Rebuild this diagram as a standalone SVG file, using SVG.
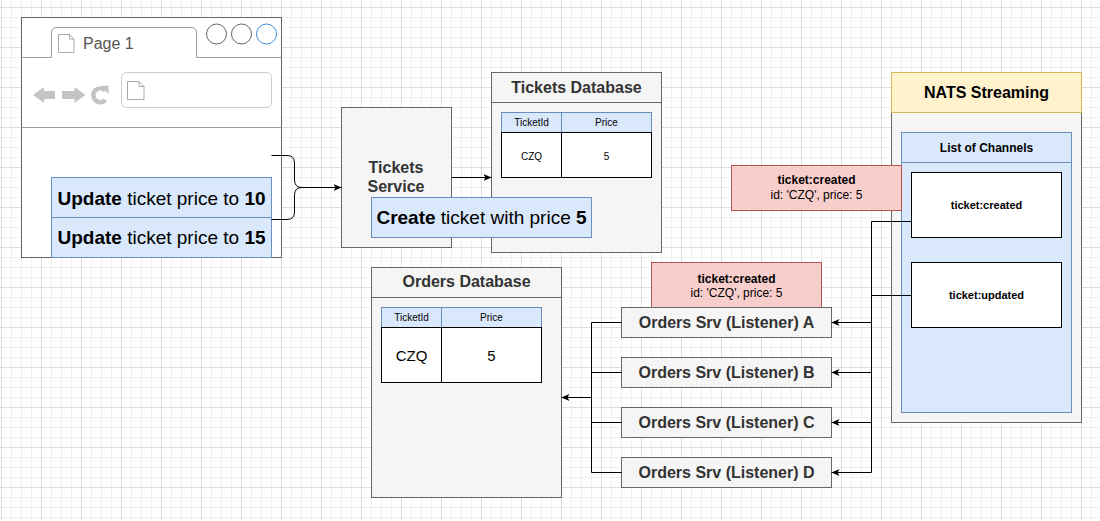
<svg xmlns="http://www.w3.org/2000/svg" width="1100" height="521" viewBox="0 0 1100 521">
<defs>
<pattern id="grid" patternUnits="userSpaceOnUse" x="1" y="7" width="40" height="40">
<path d="M10.5,0V40M20.5,0V40M30.5,0V40M0,10.5H40M0,20.5H40M0,30.5H40" stroke="#f0f0f0" stroke-width="1" fill="none"/>
<path d="M0.5,0V40M0,0.5H40" stroke="#dddddd" stroke-width="1" fill="none"/>
</pattern>
<marker id="arr" markerUnits="userSpaceOnUse" viewBox="0 0 8 7" markerWidth="8" markerHeight="7" refX="8" refY="3.5" orient="auto">
<path d="M0,0 L8,3.5 L0,7 L2,3.5 Z" fill="#000"/>
</marker>
<style>
text{font-family:"Liberation Sans",Arial,Helvetica,sans-serif;}
.gray{fill:#f5f5f5;stroke:#666666;stroke-width:1;}
.blue{fill:#dae8fc;stroke:#6c8ebf;stroke-width:1;}
.red{fill:#f8cecc;stroke:#b85450;stroke-width:1;}
.yellow{fill:#fff2cc;stroke:#d6b656;stroke-width:1;}
.white{fill:#ffffff;stroke:#000000;stroke-width:1;}
.title{font-size:16px;font-weight:bold;fill:#333333;text-anchor:middle;}
.big{font-size:19px;fill:#000;text-anchor:middle;}
.small{font-size:10px;fill:#000;text-anchor:middle;}
.lbl{font-size:12px;fill:#000;text-anchor:middle;}
.conn{fill:none;stroke:#000;stroke-width:1;}
.icon{fill:#c4c4c4;}
.pg{fill:#fff;stroke:#aaaaaa;stroke-width:1;}
</style>
</defs>
<rect x="0" y="0" width="1100" height="521" fill="#ffffff"/>
<rect x="0" y="0" width="1100" height="521" fill="url(#grid)"/>

<g id="browser">
<rect x="21.5" y="17.5" width="260" height="240" fill="#ffffff" stroke="#666666"/>
<path d="M21.5,57.5H51.5M196.5,57.5H281.5" stroke="#999999" fill="none"/>
<path d="M51.5,57.5V32.5Q51.5,27.5 56.5,27.5H191.5Q196.5,27.5 196.5,32.5V57.5" fill="#ffffff" stroke="#999999"/>
<path class="pg" d="M58.5,34.5H69.5L74,39V52.5H58.5Z M69.5,34.5V39H74"/>
<text x="83" y="49" style="font-size:16px;fill:#555555">Page 1</text>
<circle cx="216.5" cy="34" r="10" fill="#fff" stroke="#666666"/>
<circle cx="241.5" cy="34" r="10" fill="#fff" stroke="#666666"/>
<circle cx="266.5" cy="34" r="10" fill="#fff" stroke="#3d8fd6"/>
<polygon class="icon" points="33,95 44,87 44,91 55,91 55,99 44,99 44,103"/>
<polygon class="icon" points="85.5,95 74.5,87 74.5,91 62,91 62,99 74.5,99 74.5,103"/>
<path d="M105.5,90.5 A7,7 0 1 0 105.5,100" fill="none" stroke="#c4c4c4" stroke-width="4.5"/>
<polygon class="icon" points="101,86 108.5,85.5 108.5,94"/>
<rect x="121.5" y="72.5" width="150" height="35" rx="5" ry="5" fill="#ffffff" stroke="#cccccc"/>
<path class="pg" d="M127.5,81.5H139L144,86.5V99.5H127.5Z M139,81.5V86.5H144"/>
<path d="M21.5,127.5H281.5" stroke="#999999" fill="none"/>
</g>

<g id="update10">
<rect class="blue" x="51.5" y="177.5" width="220" height="40"/>
<text class="big" x="161.5" y="204.5"><tspan font-weight="bold">Update</tspan> ticket price to <tspan font-weight="bold">10</tspan></text>
</g>
<g id="update15">
<rect class="blue" x="51.5" y="217.5" width="220" height="40"/>
<text class="big" x="161.5" y="244">
<tspan font-weight="bold">Update</tspan> ticket price to <tspan font-weight="bold">15</tspan></text>
</g>

<g id="tickets-service">
<rect class="gray" x="341.5" y="107.5" width="110" height="140"/>
<text class="title" x="396" y="173">Tickets</text>
<text class="title" x="396" y="191.5">Service</text>
</g>

<g id="tickets-db">
<rect class="gray" x="491.5" y="72.5" width="170" height="180"/>
<path d="M491.5,102.5H661.5" stroke="#666666"/>
<text class="title" x="576.5" y="92.5">Tickets Database</text>
<rect class="blue" x="501.5" y="112.5" width="150" height="20"/>
<rect class="white" x="501.5" y="132.5" width="150" height="45"/>
<path d="M561.5,112.5V132.5" stroke="#6c8ebf"/>
<path d="M561.5,132.5V177.5" stroke="#000"/>
<text class="small" x="531.5" y="126" fill="#333">TicketId</text>
<text class="small" x="606.5" y="126">Price</text>
<text class="small" x="531.5" y="160">CZQ</text>
<text class="small" x="606.5" y="160">5</text>
</g>

<g id="create-event">
<rect class="blue" x="371.5" y="197.5" width="220" height="40"/>
<text class="big" x="481.5" y="224"><tspan font-weight="bold">Create</tspan> ticket with price <tspan font-weight="bold">5</tspan></text>
</g>

<g id="nats">
<rect class="gray" x="891.5" y="112.5" width="190" height="310"/>
<rect class="yellow" x="891.5" y="72.5" width="190" height="40"/>
<text class="title" x="986.5" y="97.5" fill="#000" style="fill:#000">NATS Streaming</text>
<rect class="blue" x="901.5" y="132.5" width="170" height="280"/>
<path d="M901.5,162.5H1071.5" stroke="#6c8ebf"/>
<text x="986.5" y="152" style="font-size:12px;font-weight:bold;fill:#000;text-anchor:middle">List of Channels</text>
</g>
<g id="channel-created">
<rect class="white" x="911.5" y="172.5" width="150" height="65"/>
<text x="986.5" y="209" style="font-size:11px;font-weight:bold;fill:#000;text-anchor:middle">ticket:created</text>
</g>
<g id="channel-updated">
<rect class="white" x="911.5" y="262.5" width="150" height="65"/>
<text x="986.5" y="298.5" style="font-size:11px;font-weight:bold;fill:#000;text-anchor:middle">ticket:updated</text>
</g>

<g id="event-label-1">
<rect class="red" x="731.5" y="165.5" width="170" height="45"/>
<text class="lbl" x="816.5" y="184" font-weight="bold">ticket:created</text>
<text class="lbl" x="816.5" y="198.5">id: 'CZQ', price: 5</text>
</g>

<g id="event-label-2">
<rect class="red" x="651.5" y="262.5" width="170" height="45"/>
<text class="lbl" x="736.5" y="283" font-weight="bold">ticket:created</text>
<text class="lbl" x="736.5" y="297">id: 'CZQ', price: 5</text>
</g>

<g id="orders-db">
<rect class="gray" x="371.5" y="267.5" width="190" height="230"/>
<path d="M371.5,297.5H561.5" stroke="#666666"/>
<text class="title" x="466.5" y="287">Orders Database</text>
<rect class="blue" x="381.5" y="307.5" width="160" height="20"/>
<rect class="white" x="381.5" y="327.5" width="160" height="55"/>
<path d="M441.5,307.5V327.5" stroke="#6c8ebf"/>
<path d="M441.5,327.5V382.5" stroke="#000"/>
<text class="small" x="411.5" y="321" fill="#333">TicketId</text>
<text class="small" x="491.5" y="321">Price</text>
<text x="411.5" y="361" style="font-size:15px;fill:#000;text-anchor:middle">CZQ</text>
<text x="491.5" y="361" style="font-size:15px;fill:#000;text-anchor:middle">5</text>
</g>

<g id="listener-a">
<rect class="gray" x="621.5" y="307.5" width="210" height="30"/>
<text class="title" x="726.5" y="327.5">Orders Srv (Listener) A</text>
</g>
<g id="listener-b">
<rect class="gray" x="621.5" y="357.5" width="210" height="30"/>
<text class="title" x="726.5" y="377.5">Orders Srv (Listener) B</text>
</g>
<g id="listener-c">
<rect class="gray" x="621.5" y="407.5" width="210" height="30"/>
<text class="title" x="726.5" y="427.5">Orders Srv (Listener) C</text>
</g>
<g id="listener-d">
<rect class="gray" x="621.5" y="457.5" width="210" height="30"/>
<text class="title" x="726.5" y="477.5">Orders Srv (Listener) D</text>
</g>

<g id="connectors">
<path class="conn" d="M271.5,155.5H287Q294.5,155.5 294.5,163V180Q294.5,187.5 302,187.5Q294.5,187.5 294.5,195V212Q294.5,219.5 287,219.5H271.5"/>
<path class="conn" d="M302,187.5H341.5" marker-end="url(#arr)"/>
<path class="conn" d="M451.5,177.5H491.5" marker-end="url(#arr)"/>
<path class="conn" d="M911.5,221.5H871.5V472.5M911.5,295.5H871.5"/>
<path class="conn" d="M871.5,322.5H831.5" marker-end="url(#arr)"/>
<path class="conn" d="M871.5,372.5H831.5" marker-end="url(#arr)"/>
<path class="conn" d="M871.5,422.5H831.5" marker-end="url(#arr)"/>
<path class="conn" d="M871.5,472.5H831.5" marker-end="url(#arr)"/>
<path class="conn" d="M621.5,322.5H591.5V472.5H621.5M621.5,372.5H591.5M621.5,422.5H591.5"/>
<path class="conn" d="M591.5,397.5H561.5" marker-end="url(#arr)"/>
</g>
</svg>
